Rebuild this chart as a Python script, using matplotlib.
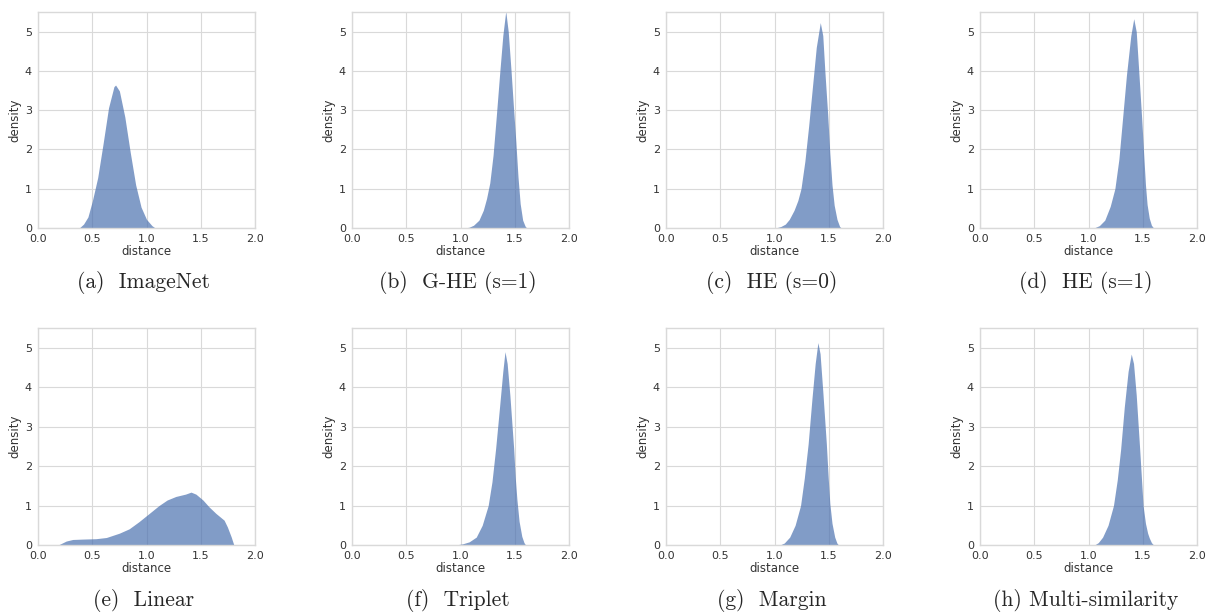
import matplotlib
matplotlib.use("Agg")
import matplotlib.pyplot as plt
import seaborn as sns

sns.set_theme(style="whitegrid")
plt.rcParams['font.family'] = ['DejaVu Sans']

# ---- data ----
imagenet_x = [0.38, 0.42, 0.46, 0.50, 0.55, 0.60, 0.65, 0.70, 0.715, 0.75, 0.80, 0.85, 0.90, 0.95, 1.00, 1.05, 1.08]
imagenet_y = [0.00, 0.10, 0.28, 0.68, 1.28, 2.15, 3.06, 3.60, 3.64, 3.49, 2.83, 1.93, 1.10, 0.53, 0.22, 0.06, 0.00]

ghe_x = [1.04, 1.08, 1.12, 1.17, 1.21, 1.24, 1.27, 1.30, 1.33, 1.36, 1.39, 1.417, 1.44, 1.466, 1.49, 1.51, 1.53, 1.55, 1.573, 1.595, 1.61]
ghe_y = [0.00, 0.02, 0.07, 0.20, 0.45, 0.75, 1.15, 1.85, 2.85, 3.90, 4.90, 5.52, 5.00, 4.00, 3.00, 2.20, 1.30, 0.62, 0.20, 0.05, 0.00]

he0_x = [1.01, 1.06, 1.10, 1.136, 1.18, 1.215, 1.244, 1.28, 1.315, 1.35, 1.385, 1.422, 1.445, 1.464, 1.49, 1.51, 1.53, 1.55, 1.576, 1.60, 1.615]
he0_y = [0.00, 0.04, 0.10, 0.22, 0.45, 0.70, 1.00, 1.70, 2.60, 3.60, 4.60, 5.23, 4.90, 4.00, 2.90, 1.90, 1.10, 0.58, 0.22, 0.04, 0.00]

he1_x = [1.05, 1.10, 1.15, 1.20, 1.243, 1.28, 1.31, 1.35, 1.39, 1.417, 1.44, 1.463, 1.49, 1.509, 1.525, 1.54, 1.56, 1.58, 1.60]
he1_y = [0.00, 0.06, 0.20, 0.55, 1.00, 1.75, 2.67, 3.90, 4.90, 5.33, 5.00, 4.00, 2.80, 1.86, 1.10, 0.60, 0.25, 0.07, 0.00]

linear_x = [0.186, 0.26, 0.32, 0.415, 0.535, 0.63, 0.75, 0.84, 0.93, 1.025, 1.115, 1.19, 1.27, 1.36, 1.41, 1.455, 1.52, 1.575, 1.64, 1.715, 1.745, 1.78, 1.805]
linear_y = [0.00, 0.10, 0.14, 0.15, 0.16, 0.19, 0.30, 0.41, 0.59, 0.80, 1.00, 1.14, 1.23, 1.29, 1.34, 1.29, 1.14, 0.97, 0.80, 0.63, 0.46, 0.21, 0.00]

triplet_x = [0.955, 1.02, 1.08, 1.145, 1.20, 1.255, 1.29, 1.324, 1.36, 1.39, 1.41, 1.43, 1.455, 1.49, 1.505, 1.52, 1.54, 1.565, 1.585, 1.60]
triplet_y = [0.00, 0.03, 0.08, 0.20, 0.50, 1.00, 1.60, 2.45, 3.50, 4.40, 4.90, 4.60, 3.80, 2.45, 1.70, 1.15, 0.60, 0.22, 0.06, 0.00]

margin_x = [1.05, 1.09, 1.14, 1.19, 1.24, 1.275, 1.31, 1.345, 1.375, 1.40, 1.42, 1.445, 1.478, 1.495, 1.51, 1.53, 1.555, 1.575, 1.59]
margin_y = [0.00, 0.05, 0.20, 0.50, 1.00, 1.70, 2.56, 3.70, 4.60, 5.13, 4.85, 3.90, 2.56, 1.70, 1.05, 0.55, 0.20, 0.05, 0.00]

ms_x = [1.055, 1.09, 1.13, 1.18, 1.23, 1.265, 1.296, 1.33, 1.365, 1.394, 1.415, 1.44, 1.472, 1.49, 1.503, 1.525, 1.545, 1.56, 1.58, 1.60]
ms_y = [0.00, 0.06, 0.20, 0.50, 1.00, 1.65, 2.42, 3.50, 4.40, 4.84, 4.60, 3.80, 2.42, 1.60, 1.00, 0.55, 0.30, 0.18, 0.06, 0.00]

captions = ["(a)  ImageNet", "(b)  G-HE (s=1)", "(c)  HE (s=0)", "(d)  HE (s=1)",
            "(e)  Linear", "(f)  Triplet", "(g)  Margin", "(h) Multi-similarity"]
xs = [imagenet_x, ghe_x, he0_x, he1_x, linear_x, triplet_x, margin_x, ms_x]
ys = [imagenet_y, ghe_y, he0_y, he1_y, linear_y, triplet_y, margin_y, ms_y]

x_ticks = [0.0, 0.5, 1.0, 1.5, 2.0]
y_ticks = [0, 1, 2, 3, 4, 5]

W, H = 1209, 613
fig = plt.figure(figsize=(W / 100, H / 100), dpi=100)

lefts = [38, 352, 666, 980]
ax_w = 217
rows = [(12, 228), (328, 545)]
cap_y = [283, 601]

for i in range(8):
    r, c = divmod(i, 4)
    top, bot = rows[r]
    ax = fig.add_axes([lefts[c] / W, (H - bot) / H, ax_w / W, (bot - top) / H])
    ax.fill_between(xs[i], ys[i], 0, color="#4c72b0", alpha=0.7, linewidth=0)
    ax.set_xlim(0, 2)
    ax.set_ylim(0, 5.5)
    ax.set_xticks(x_ticks)
    ax.set_xticklabels([f"{t:.1f}" for t in x_ticks])
    ax.set_yticks(y_ticks)
    ax.tick_params(axis="both", labelsize=8, length=0, pad=4.5, colors=".2")
    ax.set_xlabel("distance", fontsize=8.5, color=".2", labelpad=0.5)
    ax.set_ylabel("density", fontsize=8.5, color=".2", labelpad=2.5)
    ax.grid(True, color=".85", linewidth=0.8)
    for s in ax.spines.values():
        s.set_color(".85")
        s.set_linewidth(1.0)
    cx = (lefts[c] + ax_w / 2) / W
    fig.text(cx - 3 / W, 1 - cap_y[r] / H, captions[i], ha="center", va="center",
             fontsize=15.5, family="cmr10")

fig.savefig("out.png", dpi=100)
